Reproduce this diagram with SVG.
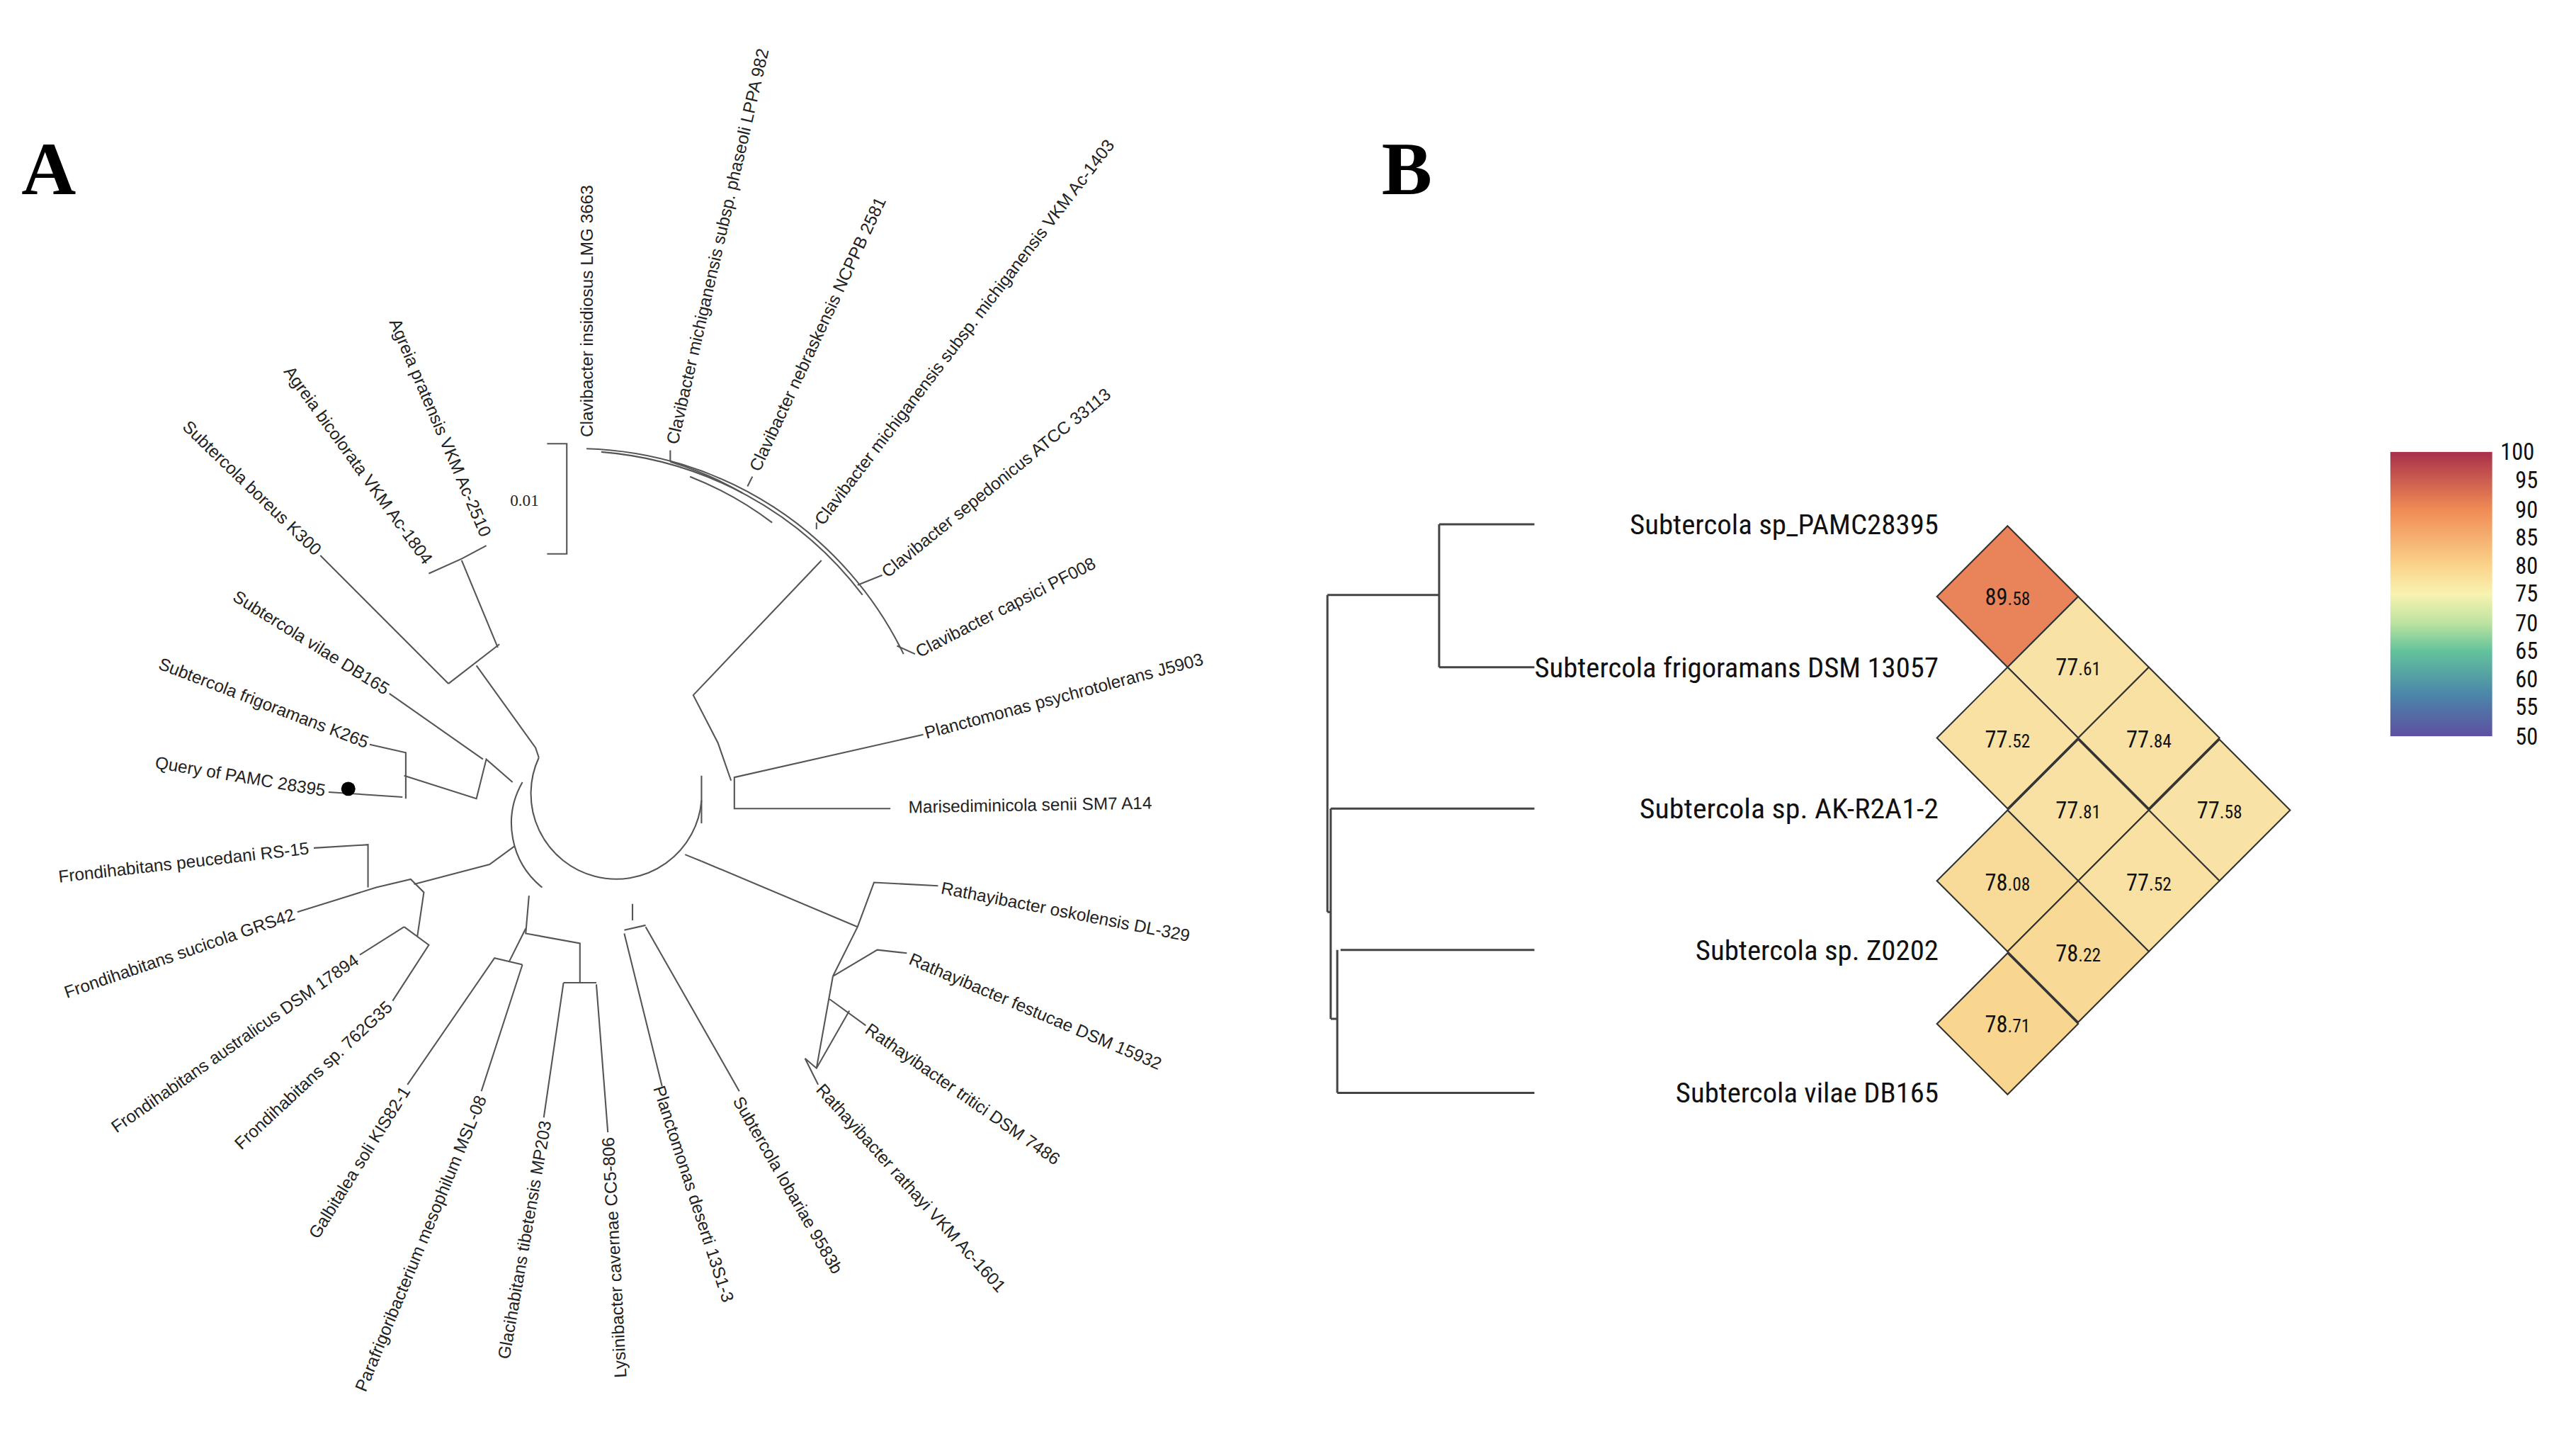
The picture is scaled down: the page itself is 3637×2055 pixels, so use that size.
<svg xmlns="http://www.w3.org/2000/svg" width="3637" height="2055" viewBox="0 0 3637 2055">
<style>
.lb{font-family:"Liberation Sans",Arial,sans-serif;font-size:10.5px;fill:#222}
.br{fill:none;stroke:#555;stroke-width:0.9}
.big{font-family:"Liberation Serif","Times New Roman",serif;font-weight:bold;font-size:46px;fill:#000}
.cn{font-family:"Roboto Condensed","Liberation Sans Narrow",Roboto,sans-serif;font-stretch:condensed;fill:#111}
.cell{stroke:#333;stroke-width:0.9}
.dd{fill:none;stroke:#444;stroke-width:1.3}
</style>
<defs>
<linearGradient id="cb" x1="0" y1="0" x2="0" y2="1">
<stop offset="0" stop-color="#a8304a"/>
<stop offset="0.2" stop-color="#f08a55"/>
<stop offset="0.4" stop-color="#fbd38b"/>
<stop offset="0.5" stop-color="#f8f3b0"/>
<stop offset="0.6" stop-color="#bfe3a0"/>
<stop offset="0.7" stop-color="#63c39c"/>
<stop offset="0.85" stop-color="#4b87a9"/>
<stop offset="1" stop-color="#5e4fa2"/>
</linearGradient>
</defs>
<rect width="3637" height="2055" fill="#fff"/>
<g transform="scale(2.3195)">
<text class="big" x="13" y="118">A</text>
<text class="big" x="841" y="118">B</text>

<g id="connectors">
<!-- scale bar -->
<path class="br" d="M333,270 H345 V337 H333"/>
<!-- Clavibacter clade -->
<path class="br" d="M357,273 A222,222 0 0 1 550,398"/>
<path class="br" d="M366,275 A222,222 0 0 1 525,362"/>
<path class="br" d="M408,281 A210,210 0 0 1 452,300"/>
<path class="br" d="M420,290 A210,210 0 0 1 470,318"/>
<path class="br" d="M408,281 L408,274 M455,296 L458,290 M497,322 L497,318 M522,356 L537,350 M546,393 L557,398"/>
<path class="br" d="M500,341 L422,423 L437,452 L445,475"/>
<!-- Planctomonas / Marisediminicola -->
<path class="br" d="M562,447 L447,473 V492 L542,492"/>
<path class="br" d="M427,472 V501"/>
<!-- central ring -->
<path class="br" d="M328,461 A52,52 0 1 0 427,487"/>
<path class="br" d="M318,476 A50,50 0 0 0 330,540"/>
<!-- Subtercola / Agreia -->
<path class="br" d="M195,338 L273,416 M261,349 L281,340 L296,332 M281,341 L303,394 M273,416 L304,392 M290,405 L326,455 L328,461"/>
<path class="br" d="M237,422 L294,462 M225,453 L247,458 V486 M200,482 L245,485 M246,472 L290,486 L296,462 L312,476"/>
<circle cx="212" cy="480" r="4.3" fill="#000"/>
<!-- Rathayibacter -->
<path class="br" d="M427,524 L522,564 M571,539 L532,537 L522,564 L507,594 M552,580 L534,578 L507,594 M517,615 L497,650 L490,644 M527,624 L505,608 M498,660 L490,644 M507,594 L497,650"/>
<path class="br" d="M417,520 L427,524"/>
<!-- lower clades -->
<path class="br" d="M450,664 L393,564 M403,661 L380,568 M380,566 L393,563 M385,560 L385,550"/>
<path class="br" d="M370,689 L363,599 M331,680 L343,598 M343,598 H363 M353,598 V574 L320,568 L322,545"/>
<path class="br" d="M293,664 L318,587 M248,660 L301,583 L318,587 M310,585 L320,565"/>
<!-- Frondihabitans -->
<path class="br" d="M191,516 L224,514 V540 M181,555 L229,540 M219,581 L246,564 M239,609 L261,575 L246,564 M229,540 L250,535 L258,543 L254,570 M252,538 L298,526 L313,515"/>
</g>

<g id="treeLabels">
<text class="lb" x="328" y="308" style="font-family:'Liberation Serif',serif;font-size:10px" text-anchor="end">0.01</text>
<g id="t1"><text class="lb" transform="translate(357,266) rotate(-90)" dy="0.35em">Clavibacter insidiosus LMG 3663</text></g>
<g id="t2"><text class="lb" transform="translate(409,270) rotate(-77)" dy="0.35em">Clavibacter michiganensis subsp. phaseoli LPPA 982</text></g>
<g id="t3"><text class="lb" transform="translate(459,286) rotate(-65)" dy="0.35em">Clavibacter nebraskensis NCPPB 2581</text></g>
<g id="t4"><text class="lb" transform="translate(498,318) rotate(-52.5)" dy="0.35em">Clavibacter michiganensis subsp. michiganensis VKM Ac-1403</text></g>
<g id="t5"><text class="lb" transform="translate(538,349) rotate(-39)" dy="0.35em">Clavibacter sepedonicus ATCC 33113</text></g>
<g id="t6"><text class="lb" transform="translate(558,397) rotate(-27)" dy="0.35em">Clavibacter capsici PF008</text></g>
<g id="t7"><text class="lb" transform="translate(563,446) rotate(-15)" dy="0.35em">Planctomonas psychrotolerans J5903</text></g>
<g id="t8"><text class="lb" transform="translate(553,491) rotate(-1)" dy="0.35em">Marisediminicola senii SM7 A14</text></g>
<g id="t9"><text class="lb" transform="translate(573,540) rotate(11)" dy="0.35em">Rathayibacter oskolensis DL-329</text></g>
<g id="t10"><text class="lb" transform="translate(554,583) rotate(23)" dy="0.35em">Rathayibacter festucae DSM 15932</text></g>
<g id="t11"><text class="lb" transform="translate(528,625) rotate(35)" dy="0.35em">Rathayibacter tritici DSM 7486</text></g>
<g id="t12"><text class="lb" transform="translate(499,661) rotate(48)" dy="0.35em">Rathayibacter rathayi VKM Ac-1601</text></g>
<g id="t13"><text class="lb" transform="translate(449,668) rotate(60)" dy="0.35em">Subtercola lobariae 9583b</text></g>
<g id="t14"><text class="lb" transform="translate(401,661) rotate(72)" dy="0.35em">Planctomonas deserti 13S1-3</text></g>
<g id="t15"><text class="lb" text-anchor="end" transform="translate(370,692) rotate(-93)" dy="0.35em">Lysinibacter cavernae CC5-806</text></g>
<g id="t16"><text class="lb" text-anchor="end" transform="translate(332,682) rotate(-80)" dy="0.35em">Glacihabitans tibetensis MP203</text></g>
<g id="t17"><text class="lb" text-anchor="end" transform="translate(293,667) rotate(-67.6)" dy="0.35em">Parafrigoribacterium mesophilum MSL-08</text></g>
<g id="t18"><text class="lb" text-anchor="end" transform="translate(247,662) rotate(-58)" dy="0.35em">Galbitalea soli KIS82-1</text></g>
<g id="t19"><text class="lb" text-anchor="end" transform="translate(237,611) rotate(-43)" dy="0.35em">Frondihabitans sp. 762G35</text></g>
<g id="t20"><text class="lb" text-anchor="end" transform="translate(217,583) rotate(-35)" dy="0.35em">Frondihabitans australicus DSM 17894</text></g>
<g id="t21"><text class="lb" text-anchor="end" transform="translate(179,556) rotate(-19)" dy="0.35em">Frondihabitans sucicola GRS42</text></g>
<g id="t22"><text class="lb" text-anchor="end" transform="translate(188,516) rotate(-6.5)" dy="0.35em">Frondihabitans peucedani RS-15</text></g>
<g id="t23"><text class="lb" text-anchor="end" transform="translate(198,481) rotate(9.5)" dy="0.35em">Query of PAMC 28395</text></g>
<g id="t24"><text class="lb" text-anchor="end" transform="translate(224,452) rotate(21)" dy="0.35em">Subtercola frigoramans K265</text></g>
<g id="t25"><text class="lb" text-anchor="end" transform="translate(236,420) rotate(32)" dy="0.35em">Subtercola vilae DB165</text></g>
<g id="t26"><text class="lb" text-anchor="end" transform="translate(194,336) rotate(44)" dy="0.35em">Subtercola boreus K300</text></g>
<g id="t27"><text class="lb" text-anchor="end" transform="translate(261,342) rotate(54)" dy="0.35em">Agreia bicolorata VKM Ac-1804</text></g>
<g id="t28"><text class="lb" text-anchor="end" transform="translate(296,326) rotate(67)" dy="0.35em">Agreia pratensis VKM Ac-2510</text></g>
</g>

<!-- Panel B -->
<g id="dendroB">
<path class="dd" d="M876,319 H934 M876,406 H934 M876,319 V406 M808,362 H876 M808,362 V555 M808,555 H810 M810,492 H934 M810,492 V620 M810,620 H814 M816,578 H934 M814,665 H934 M814,578 V665"/>
</g>
<g id="labelsB" class="cn" font-size="17" text-anchor="end">
<text x="1180" y="325" textLength="188" lengthAdjust="spacingAndGlyphs">Subtercola sp_PAMC28395</text>
<text x="1180" y="412" textLength="246" lengthAdjust="spacingAndGlyphs">Subtercola frigoramans DSM 13057</text>
<text x="1180" y="498" textLength="182" lengthAdjust="spacingAndGlyphs">Subtercola sp. AK-R2A1-2</text>
<text x="1180" y="584" textLength="148" lengthAdjust="spacingAndGlyphs">Subtercola sp. Z0202</text>
<text x="1180" y="671" textLength="160" lengthAdjust="spacingAndGlyphs">Subtercola vilae DB165</text>
</g>
<g id="heatmap">
<g class="cell">
<path d="M1222,320 l43,43 l-43,43 l-43,-43z" fill="#e9845a"/>
<path d="M1265,363 l43,43 l-43,43 l-43,-43z" fill="#f9e2a5"/>
<path d="M1222,406 l43,43 l-43,43 l-43,-43z" fill="#f9e1a3"/>
<path d="M1308,406 l43,43 l-43,43 l-43,-43z" fill="#f9e1a3"/>
<path d="M1265,450 l43,43 l-43,43 l-43,-43z" fill="#f9e1a3"/>
<path d="M1351,450 l43,43 l-43,43 l-43,-43z" fill="#f9e2a5"/>
<path d="M1222,493 l43,43 l-43,43 l-43,-43z" fill="#f8da99"/>
<path d="M1308,493 l43,43 l-43,43 l-43,-43z" fill="#f9e1a3"/>
<path d="M1265,536 l43,43 l-43,43 l-43,-43z" fill="#f8d996"/>
<path d="M1222,580 l43,43 l-43,43 l-43,-43z" fill="#f8d690"/>
</g>
<g class="cn" font-size="14" text-anchor="middle">
<text x="1222" y="368">89<tspan font-size="11">.58</tspan></text>
<text x="1265" y="411">77<tspan font-size="11">.61</tspan></text>
<text x="1222" y="455">77<tspan font-size="11">.52</tspan></text>
<text x="1308" y="455">77<tspan font-size="11">.84</tspan></text>
<text x="1265" y="498">77<tspan font-size="11">.81</tspan></text>
<text x="1351" y="498">77<tspan font-size="11">.58</tspan></text>
<text x="1222" y="542">78<tspan font-size="11">.08</tspan></text>
<text x="1308" y="542">77<tspan font-size="11">.52</tspan></text>
<text x="1265" y="585">78<tspan font-size="11">.22</tspan></text>
<text x="1222" y="628">78<tspan font-size="11">.71</tspan></text>
</g>
</g>
<g id="colorbar">
<rect x="1455" y="275" width="62" height="173" fill="url(#cb)"/>
<g class="cn" font-size="14">
<text x="1522" y="280">100</text>
<text x="1531" y="297">95</text>
<text x="1531" y="315">90</text>
<text x="1531" y="332">85</text>
<text x="1531" y="349">80</text>
<text x="1531" y="366">75</text>
<text x="1531" y="384">70</text>
<text x="1531" y="401">65</text>
<text x="1531" y="418">60</text>
<text x="1531" y="435">55</text>
<text x="1531" y="453">50</text>
</g>
</g>
</g>
</svg>
